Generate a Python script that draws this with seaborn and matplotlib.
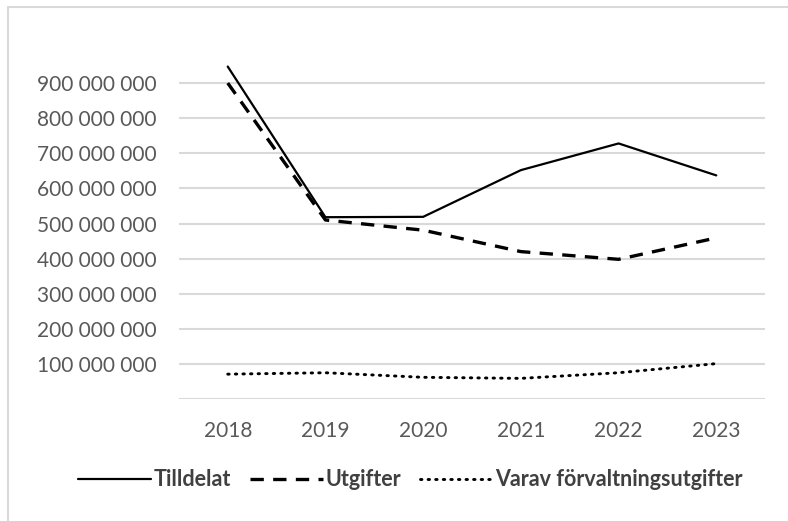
import pandas as pd
import seaborn as sns
import matplotlib.pyplot as plt
from matplotlib.patches import Rectangle
from matplotlib.ticker import FuncFormatter

# Data
years = ['2018', '2019', '2020', '2021', '2022', '2023']
tilldelat = [947e6, 518e6, 519e6, 652e6, 728e6, 637e6]
utgifter = [900e6, 510e6, 481e6, 420e6, 398e6, 459e6]
forvaltning = [71e6, 75e6, 62e6, 59e6, 75e6, 101e6]
y_ticks = [100e6, 200e6, 300e6, 400e6, 500e6, 600e6, 700e6, 800e6, 900e6]

df = pd.DataFrame({'år': years, 'Tilldelat': tilldelat, 'Utgifter': utgifter,
                   'Varav förvaltningsutgifter': forvaltning})

sns.set_style('white')
plt.rcParams['font.family'] = ['Lato', 'DejaVu Sans']

fig = plt.figure(figsize=(7.88, 5.21), dpi=100)
ax = fig.add_axes([0.227, 0.234, 0.744, 0.674])

# Grå ram runt diagrammet
fig.patches.append(Rectangle((8 / 788, -0.1), 1.2, 1.1 - 7 / 521, transform=fig.transFigure,
                             fill=False, edgecolor='#d9d9d9', linewidth=1.5))

grid_color = '#d9d9d9'
for t in [0] + y_ticks:
    ax.axhline(t, color=grid_color, linewidth=1.5, zorder=0)

sns.lineplot(data=df, x='år', y='Tilldelat', ax=ax, color='black', linewidth=1.6,
             label='Tilldelat')
sns.lineplot(data=df, x='år', y='Utgifter', ax=ax, color='black', linewidth=2.4,
             dashes=False, linestyle=(0, (4, 2.8)), label='Utgifter')
sns.lineplot(data=df, x='år', y='Varav förvaltningsutgifter', ax=ax, color='black',
             linewidth=2.1, linestyle=(0, (0.5, 2.1)), dash_capstyle='round',
             label='Varav förvaltningsutgifter')

ax.set_xlim(-0.5, 5.5)
ax.set_ylim(0, 1000e6)
ax.set_yticks(y_ticks)
ax.yaxis.set_major_formatter(FuncFormatter(lambda v, p: f'{int(v):,}'.replace(',', '\u202f')))
ax.tick_params(axis='both', colors='#595959', labelsize=15, length=0)
ax.tick_params(axis='y', pad=16)
ax.tick_params(axis='x', pad=16)
ax.set_xlabel('')
ax.set_ylabel('')
for s in ax.spines.values():
    s.set_visible(False)

leg = ax.legend(loc='upper center', bbox_to_anchor=(0.395, -0.145), ncol=3, frameon=False,
                handlelength=3.4, handletextpad=0.1, columnspacing=0.9,
                prop={'weight': 'bold', 'size': 15.5})
for txt in leg.get_texts():
    txt.set_color('#404040')

plt.savefig('out.png', dpi=100)
